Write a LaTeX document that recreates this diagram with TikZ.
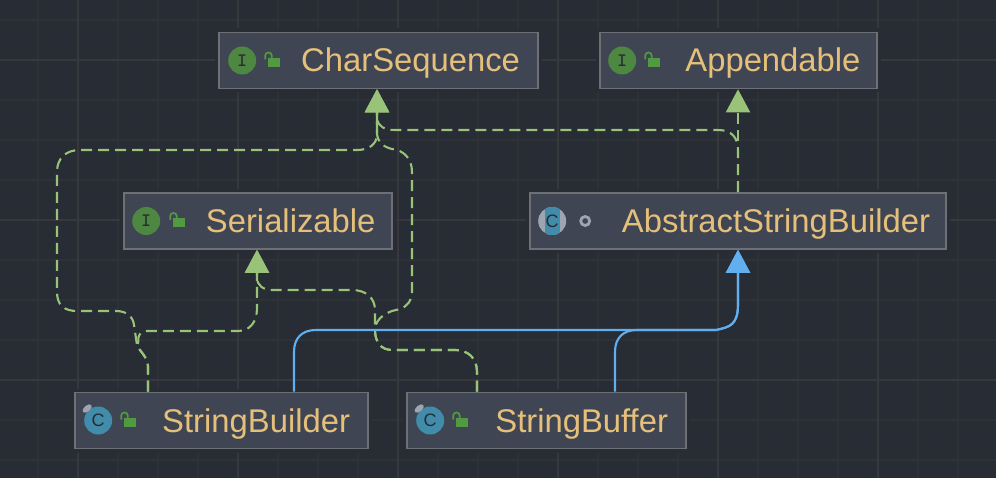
\documentclass[tikz,border=0pt]{standalone}
\usepackage{fontspec}
\setmainfont{Liberation Sans}
\usetikzlibrary{arrows.meta, positioning, backgrounds, shapes.geometric}
\definecolor{umlbg}{RGB}{40, 44, 52}
\definecolor{umlgrid}{RGB}{46, 49, 54}
\definecolor{umlgridmajor}{RGB}{55, 56, 59}
\definecolor{umlbox}{RGB}{63, 69, 83}
\definecolor{umlborder}{RGB}{110, 112, 117}
\definecolor{umltext}{RGB}{229, 192, 123}
\definecolor{umlgreen}{RGB}{152, 195, 121}
\definecolor{umlblue}{RGB}{97, 175, 239}
\definecolor{iconinterface}{RGB}{78, 135, 66}
\definecolor{iconclass}{RGB}{64, 140, 170}
\definecolor{iconlock}{RGB}{80, 155, 66}
\definecolor{icongray}{RGB}{158, 165, 176}
\definecolor{iconink}{RGB}{40, 44, 52}
\tikzset{
  gridminor/.style={draw=umlgrid, line width=1.6pt},
  gridmajor/.style={draw=umlgridmajor, line width=1.8pt},
  classbox/.style={rectangle, draw=umlborder, fill=umlbox, line width=1.6pt,
                   preaction={draw=umlbg, line width=8pt},
                   minimum height=56pt, inner xsep=18pt, inner ysep=0pt,
                   text width=#1, align=right, text=umltext,
                   text height=25pt, text depth=2pt,
                   font=\fontsize{32.8}{36}\selectfont},
  interfaceicon/.style={circle, fill=iconinterface, minimum size=28pt, inner sep=0pt,
                        text=iconink, font=\fontsize{19}{20}\selectfont\ttfamily\bfseries},
  classicon/.style={circle, fill=iconclass, minimum size=28pt, inner sep=0pt,
                    text=iconink, font=\fontsize{18}{20}\selectfont},
  abstracticon/.style={circle, fill=icongray, minimum size=28pt, inner sep=0pt},
  bandlabel/.style={inner sep=0pt, text=iconink, font=\fontsize{18}{20}\selectfont},
  ringicon/.style={circle, draw=icongray, line width=2.8pt, minimum size=9pt, inner sep=0pt},
  tabicon/.style={ellipse, fill=icongray, minimum width=11pt, minimum height=6pt,
                  inner sep=0pt, rotate=40},
  implements/.style={draw=umlgreen, line width=2.1pt, dash pattern=on 11pt off 6pt,
                     -{Triangle[length=23pt, width=24pt]}},
  extends/.style={draw=umlblue, line width=2.1pt, -{Triangle[length=23pt, width=24pt]}},
  openlock/.pic={
    \fill[iconlock] (-6,-4.5) rectangle (6,4.5);
    \draw[iconlock, line width=1.7pt] (-9,-3) -- (-9,-7) .. controls (-9,-11) and (-2.5,-11) .. (-2.5,-7) -- (-2.5,-3);
  },
}
\begin{document}
\begin{tikzpicture}[x=1pt, y=-1pt]
  \useasboundingbox (0,0) rectangle (996,478);
  \fill[umlbg] (0,0) rectangle (996,478);

  % grid
  \foreach \gx in {38,78,...,998} \draw[gridminor] (\gx,0) -- (\gx,478);
  \foreach \gy in {20,60,...,460} \draw[gridminor] (0,\gy) -- (996,\gy);
  \foreach \gx in {78,238,...,878} \draw[gridmajor] (\gx,0) -- (\gx,478);
  \foreach \gy in {60,220,380} \draw[gridmajor] (0,\gy) -- (996,\gy);

  % classes
  \node[classbox=283pt] (charseq) at (378.5,60.5) {CharSequence};
  \node[classbox=244pt, inner xsep=16.5pt] (appendable) at (738.5,60.5) {Appendable};
  \node[classbox=235pt, inner xsep=16.5pt] (serial) at (258,221) {Serializable};
  \node[classbox=384pt, inner xsep=16pt] (abstract) at (738,221) {AbstractStringBuilder};
  \node[classbox=257pt] (builder) at (221.5,420.5) {StringBuilder};
  \node[classbox=243pt] (buffer) at (546.5,420.5) {StringBuffer};

  % icons
  \node[interfaceicon] (charseq icon) at ([xshift=24pt]charseq.west) {I};
  \pic (charseq lock) at ([xshift=56pt, yshift=-2pt]charseq.west) {openlock};
  \node[interfaceicon] (appendable icon) at ([xshift=23pt]appendable.west) {I};
  \pic (appendable lock) at ([xshift=55pt, yshift=-2pt]appendable.west) {openlock};
  \node[interfaceicon] (serial icon) at ([xshift=23pt]serial.west) {I};
  \pic (serial lock) at ([xshift=56pt, yshift=-2pt]serial.west) {openlock};
  \node[abstracticon] (abstract icon) at ([xshift=23pt]abstract.west) {};
  \begin{scope}
    \clip (abstract icon) circle (14);
    \fill[iconclass] ([xshift=-7.5pt, yshift=-14pt]abstract icon.center) rectangle ([xshift=7.5pt, yshift=14pt]abstract icon.center);
  \end{scope}
  \node[bandlabel] (abstract label) at (abstract icon) {C};
  \node[ringicon] (abstract ring) at ([xshift=56pt]abstract.west) {};
  \node[classicon] (builder icon) at ([xshift=24pt]builder.west) {C};
  \node[tabicon] (builder tab) at ([xshift=-11pt, yshift=12pt]builder icon) {};
  \pic (builder lock) at ([xshift=56pt, yshift=-2pt]builder.west) {openlock};
  \node[classicon] (buffer icon) at ([xshift=24pt]buffer.west) {C};
  \node[tabicon] (buffer tab) at ([xshift=-11pt, yshift=12pt]buffer icon) {};
  \pic (buffer lock) at ([xshift=56pt, yshift=-2pt]buffer.west) {openlock};

  % implements
  \draw[implements] ([xshift=-73.5pt]builder.north) -- (148,366) .. controls (147,356) and (140,352) .. (137,345)
    -- (134,325) .. controls (133,316) and (126,311) .. (116,311) -- (77,311)
    .. controls (64,311) and (57,305) .. (57,292) -- (57,172) .. controls (57,158) and (66,150) .. (80,150)
    -- (357,150) .. controls (368,150) and (377,145) .. (377,134) -- ([xshift=-1.5pt]charseq.south);
  \draw[implements] ([xshift=-73.5pt]builder.north) -- (148,366) .. controls (147,356) and (140,352) .. (137,345)
    .. controls (141,339) and (134,336) .. (145,331) -- (238,331) .. controls (250,331) and (257,322) .. (257,308)
    -- ([xshift=-1pt]serial.south);
  \draw[implements] ([xshift=-69.5pt]buffer.north) -- (477,372) .. controls (477,358) and (468,350) .. (455,350) -- (392,350)
    .. controls (381,350) and (375,342) .. (375,330) -- (375,310) .. controls (375,298) and (366,290) .. (352,290)
    -- (272,290) .. controls (263,290) and (257,285) .. (257,278) -- ([xshift=-1pt]serial.south);
  \draw[implements] ([xshift=-69.5pt]buffer.north) -- (477,372) .. controls (477,358) and (468,350) .. (455,350) -- (392,350)
    .. controls (381,350) and (375,342) .. (375,330) .. controls (375,322) and (381,315) .. (392,311)
    -- (400,309) .. controls (408,306) and (412,300) .. (412,292) -- (412,172) .. controls (412,158) and (403,150) .. (392,149)
    .. controls (384,147) and (378,143) .. (377,134) -- ([xshift=-1.5pt]charseq.south);
  \draw[implements] (abstract.north) -- (738,150) .. controls (738,138) and (732,130) .. (718,130)
    -- (395,130) .. controls (385,130) and (378,127) .. (377,118) -- ([xshift=-1.5pt]charseq.south);
  \draw[implements] (abstract.north) -- ([xshift=-0.5pt]appendable.south);

  % extends
  \draw[extends] ([xshift=72.5pt]builder.north) -- (294,352) .. controls (294,338) and (302,330) .. (316,330)
    -- (716,330) .. controls (730,327) and (738,325) .. (738,304) -- (abstract.south);
  \draw[extends] ([xshift=68.5pt]buffer.north) -- (615,352) .. controls (615,338) and (623,330) .. (637,330)
    -- (716,330) .. controls (730,327) and (738,325) .. (738,304) -- (abstract.south);
\end{tikzpicture}
\end{document}
